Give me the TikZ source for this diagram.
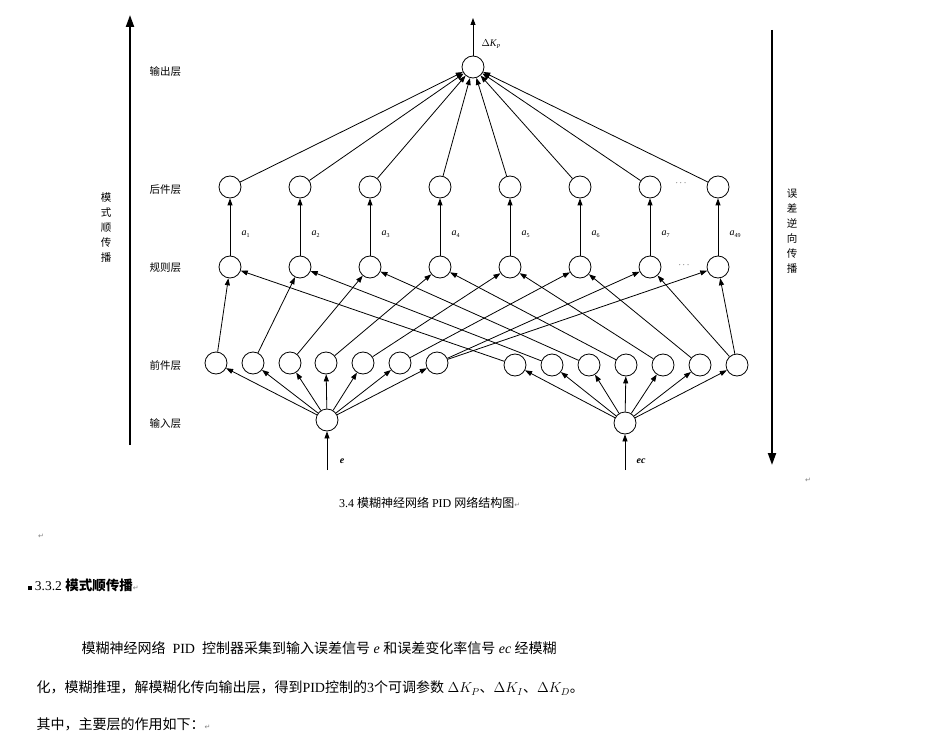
\documentclass[tikz,border=0pt]{standalone}
\usepackage{fontspec}
\setmainfont{Liberation Serif}
\newfontfamily\cjk{Noto Sans CJK SC}
\newfontfamily\djv{DejaVu Sans}
\newcommand{\myret}{\textcolor{gray}{\djv\fontsize{7pt}{7pt}\selectfont ↵}}
\usetikzlibrary{arrows.meta,calc}
\begin{document}
\begin{tikzpicture}[x=1pt,y=-1pt,
 neu/.style={circle,draw,minimum size=22pt,inner sep=0pt,line width=0.8pt},
 con/.style={-{Triangle[length=7pt,width=5pt]},line width=0.8pt},
 lab/.style={font=\cjk\fontsize{10.5pt}{12pt}\selectfont,anchor=west},
 sub/.style={font=\fontsize{10pt}{12pt}\selectfont\itshape}]
\useasboundingbox (0,0) rectangle (934,738);
% output
\node[neu] (out) at (473,67) {};
\coordinate (outtop) at (473,18);
\draw[con] (out) -- (outtop);
\node[sub,anchor=west] (dk) at (478,44) {\upshape$\Delta$\itshape K\textsubscript{\fontsize{6pt}{6pt}\selectfont P}};
% rule & consequent layers
\foreach \i/\x in {1/230,2/300,3/370,4/440,5/510,6/580,7/650,8/718}{
  \node[neu] (r\i) at (\x,267) {};
  \node[neu] (c\i) at (\x,187) {};
  \draw[con] (r\i) -- (c\i);
  \draw[con] (c\i) -- (out);
}
\foreach \i/\t in {1/1,2/2,3/3,4/4,5/5,6/6,7/7,8/49}{
  \node[sub,anchor=west] at ($(r\i)+(8,-33)$) {a\textsubscript{\fontsize{6pt}{6pt}\selectfont\upshape\t}};
}
\node at (681,183) {\fontsize{9pt}{9pt}\selectfont$\cdots$};
\node at (684,265) {\fontsize{9pt}{9pt}\selectfont$\cdots$};
% inputs
\node[neu] (e) at (327,420) {};
\node[neu] (ec) at (625,423) {};
\coordinate (ein) at (327,470);
\coordinate (ecin) at (625,470);
\draw[con] (ein) -- (e);
\draw[con] (ecin) -- (ec);
\node[font=\bfseries\itshape\fontsize{10pt}{12pt}\selectfont] at (342,461) {e};
\node[font=\bfseries\itshape\fontsize{10pt}{12pt}\selectfont] at (641,461) {ec};
% premise layer
\foreach \i/\x in {1/216,2/253,3/290,4/326,5/363,6/400,7/437}{
  \node[neu] (l\i) at (\x,363) {};
  \draw[con] (e) -- (l\i);
}
\foreach \i/\x in {1/515,2/552,3/589,4/626,5/663,6/700,7/737}{
  \node[neu] (m\i) at (\x,365) {};
  \draw[con] (ec) -- (m\i);
}
\foreach \i in {1,...,7}{
  \draw[con] (l\i) -- (r\i);
  \draw[con] (m\i) -- (r\i);
}
\draw[con] (l7) -- (r8);
\draw[con] (m7) -- (r8);
% layer labels
\node[lab] at (146,72) {输出层};
\node[lab] at (146,190) {后件层};
\node[lab] at (146,268) {规则层};
\node[lab] at (146,366) {前件层};
\node[lab] at (146,424) {输入层};
% big arrows
\coordinate (lb) at (130,445); \coordinate (lt) at (130,15);
\draw[-{Triangle[length=12pt,width=8pt]},line width=2pt] (lb) -- (lt);
\coordinate (rt) at (772,30); \coordinate (rb) at (772,465);
\draw[-{Triangle[length=12pt,width=8pt]},line width=2pt] (rt) -- (rb);
\node[font=\cjk\fontsize{10.5pt}{15pt}\selectfont,align=center] at (106,228) {模\\式\\顺\\传\\播};
\node[font=\cjk\fontsize{10.5pt}{15pt}\selectfont,align=center] at (792,231) {误\\差\\逆\\向\\传\\播};
% caption & text
\node[font=\fontsize{12pt}{14pt}\selectfont] at (425,503) {图3.4 {\cjk 模糊神经网络} PID {\cjk 网络结构图}\myret};
\node at (41,536) {\myret};
\node at (808,480) {\myret};
\node[anchor=west,font=\fontsize{13.5pt}{16pt}\selectfont] at (24,585) {\rule{4pt}{4pt}\ 3.3.2 {\cjk\bfseries 模式顺传播}\myret};
\node[anchor=west,font=\fontsize{14pt}{16pt}\selectfont] at (78,648) {{\cjk 模糊神经网络}\ \ PID\ \ {\cjk 控制器采集到输入误差信号} \textit{e} {\cjk 和误差变化率信号} \textit{ec} {\cjk 经模糊}};
\node[anchor=west,font=\fontsize{14pt}{16pt}\selectfont] at (33,688) {{\cjk 化，模糊推理，解模糊化传向输出层，得到}PID{\cjk 控制的}3{\cjk 个可调参数} $\Delta K_P${\cjk 、}$\Delta K_I${\cjk 、}$\Delta K_D${\cjk 。}};
\node[anchor=west,font=\fontsize{14pt}{16pt}\selectfont] at (33,724) {{\cjk 其中，主要层的作用如下：}\myret};
\end{tikzpicture}
\end{document}
